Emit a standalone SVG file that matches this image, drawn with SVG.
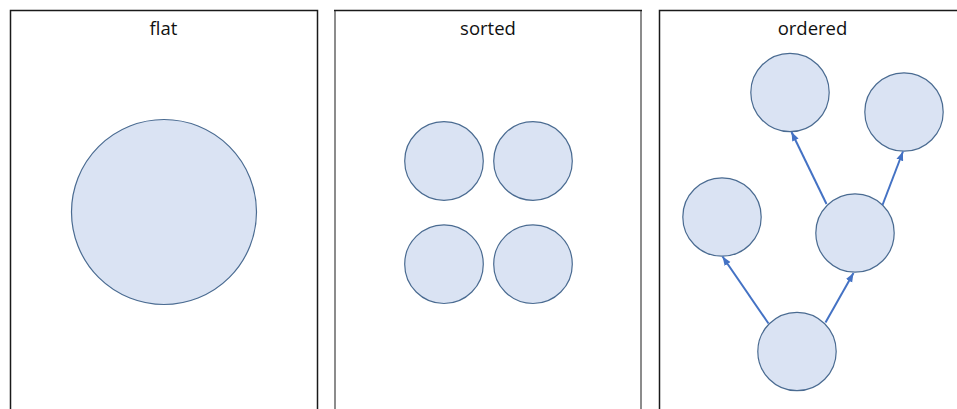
<svg xmlns="http://www.w3.org/2000/svg" width="957" height="409" viewBox="0 0 957 409">
  <style>
    .panel { fill: #ffffff; stroke: #1a1a1a; stroke-width: 1.5; }
    .side-gray { stroke: #8c8c8c; stroke-width: 2; }
    .top-dark { stroke: #1a1a1a; stroke-width: 1.5; }
    .title { font-family: "Open Sans", "Liberation Sans", sans-serif; font-size: 18.5px; fill: #111111; text-anchor: middle; }
    .node { fill: #dae3f3; stroke: #4a6b91; stroke-width: 1.2; }
    .edge { stroke: #4472c4; stroke-width: 2; fill: none; marker-end: url(#arrow); }
  </style>
  <defs>
    <marker id="arrow" markerUnits="userSpaceOnUse" markerWidth="10" markerHeight="10" viewBox="0 0 10 10" refX="9" refY="5" orient="auto">
      <path d="M0,1.5 L9,5 L0,8.5 Z" fill="#4472c4"/>
    </marker>
  </defs>
  <rect width="957" height="409" fill="#ffffff"/>

  <g id="panel-flat">
    <rect class="panel" x="10.5" y="10.5" width="307" height="420"/>
    <text class="title" x="163.5" y="35">flat</text>
  </g>
  <g id="panel-sorted">
    <line class="side-gray" x1="335" y1="10" x2="335" y2="409"/>
    <line class="side-gray" x1="641" y1="10" x2="641" y2="409"/>
    <line class="top-dark" x1="334" y1="10.5" x2="642" y2="10.5"/>
    <text class="title" x="488" y="35">sorted</text>
  </g>
  <g id="panel-ordered">
    <rect class="panel" x="659.5" y="10.5" width="320" height="420"/>
    <text class="title" x="812.5" y="35">ordered</text>
  </g>

  <g id="flat-node"><circle class="node" cx="164" cy="212" r="92.5"/></g>

  <g id="sorted-1"><circle class="node" cx="444" cy="161" r="39.3"/></g>
  <g id="sorted-2"><circle class="node" cx="533" cy="161" r="39.3"/></g>
  <g id="sorted-3"><circle class="node" cx="444" cy="264.2" r="39.3"/></g>
  <g id="sorted-4"><circle class="node" cx="533" cy="264.2" r="39.3"/></g>

  <g id="ordered-top"><circle class="node" cx="790" cy="92.5" r="39.2"/></g>
  <g id="ordered-topright"><circle class="node" cx="904" cy="112" r="39.2"/></g>
  <g id="ordered-left"><circle class="node" cx="722" cy="217" r="39.2"/></g>
  <g id="ordered-mid"><circle class="node" cx="855" cy="233" r="39.2"/></g>
  <g id="ordered-bottom"><circle class="node" cx="797" cy="351.5" r="39.2"/></g>

  <g id="connectors">
    <line class="edge" x1="768.5" y1="323.5" x2="722.5" y2="256.5"/>
    <line class="edge" x1="825.5" y1="322.5" x2="853.5" y2="273"/>
    <line class="edge" x1="826.5" y1="204" x2="791.5" y2="132"/>
    <line class="edge" x1="882.5" y1="205" x2="903" y2="151.5"/>
  </g>
</svg>
